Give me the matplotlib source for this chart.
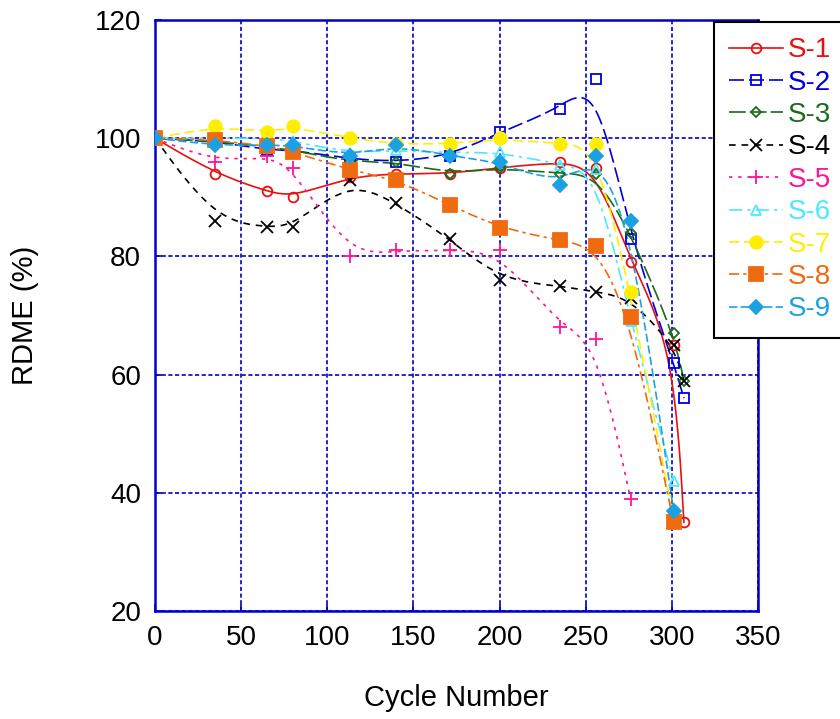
import numpy as np
import matplotlib

matplotlib.use("Agg")
import matplotlib.pyplot as plt

plt.rcParams["font.family"] = ["Liberation Sans", "DejaVu Sans"]

# cycle numbers and RDME readings (%) per sample
x_long = [0, 35, 65, 80, 113, 140, 171, 200, 235, 256, 276, 301, 307]
x_mid = [0, 35, 65, 80, 113, 140, 171, 200, 235, 256, 276, 301]
x_short = [0, 35, 65, 80, 113, 140, 171, 200, 235, 256, 276]

s1 = [100, 94, 91, 90, 93.5, 94, 94, 95, 96, 95, 79, 65, 35]
s2 = [100, 99.5, 98, 98, 96.5, 96, 97, 101, 105, 110, 83, 62, 56]
s3 = [100, 99.5, 98.5, 98, 96, 96, 94, 95, 94, 94, 84, 67, 59]
s4 = [100, 86, 85, 85, 93, 89, 83, 76, 75, 74, 73, 65, 59]
s5 = [100, 96, 97, 95, 80, 81, 81, 81, 68, 66, 39]
s6 = [100, 100, 100, 99.5, 97.5, 98, 97.5, 97.7, 95.5, 94.8, 69, 42]
s7 = [100, 102, 101, 102, 100, 99, 99, 100, 99, 99, 74, 35.5]
s8 = [100, 99.7, 98.7, 97.7, 94.6, 93, 88.7, 84.8, 82.7, 81.7, 69.7, 35]
s9 = [100, 98.8, 98.8, 98.8, 97, 98.8, 97, 96, 92, 97, 86, 37]

labels = ["S-1", "S-2", "S-3", "S-4", "S-5", "S-6", "S-7", "S-8", "S-9"]
xs = [x_long, x_long, x_long, x_long, x_short, x_mid, x_mid, x_mid, x_mid]
ys = [s1, s2, s3, s4, s5, s6, s7, s8, s9]

styles = [
    dict(color="#E8100E", marker="o", mfc="none", ms=7, dashes=()),
    dict(color="#0000DD", marker="s", mfc="none", ms=7, dashes=(9, 3)),
    dict(color="#1A6B1A", marker="D", mfc="none", ms=5.5, dashes=(10, 2.5)),
    dict(color="black", marker="x", mfc="none", ms=8, dashes=(4, 3.5)),
    dict(color="#FF1493", marker="+", mfc="none", ms=10, dashes=(2, 3.5)),
    dict(color="#4DE8FF", marker="^", mfc="none", ms=7, dashes=(8, 3, 2, 3)),
    dict(color="#FFEE00", marker="o", mfc="#FFEE00", ms=9, dashes=(6, 3)),
    dict(color="#F06A10", marker="s", mfc="#F06A10", ms=10, dashes=(6, 2.5, 2, 2.5)),
    dict(color="#1BA1E2", marker="D", mfc="#1BA1E2", ms=7, dashes=(5, 2)),
]


def bspline(x, y, n=24):
    # clamped uniform cubic B-spline through the control points
    p = np.column_stack([x, y]).astype(float)
    p = np.vstack([p[:1], p[:1], p, p[-1:], p[-1:]])
    m = np.array([[-1, 3, -3, 1], [3, -6, 3, 0], [-3, 0, 3, 0], [1, 4, 1, 0]]) / 6.0
    t = np.linspace(0, 1, n)
    tt = np.column_stack([t**3, t**2, t, np.ones_like(t)])
    segs = [tt @ m @ p[i:i + 4] for i in range(len(p) - 3)]
    out = np.vstack(segs)
    return out[:, 0], out[:, 1]


fig = plt.figure(figsize=(8.4, 7.19), dpi=100)
ax = fig.add_axes([155 / 840, 1 - 611 / 719, 603 / 840, 591 / 719])

blue = "#0000CC"
handles = []
for x, y, lab, st in zip(xs, ys, labels, styles):
    cx, cy = bspline(x, y)
    ax.plot(cx, cy, color=st["color"], lw=1.2, dashes=st["dashes"], zorder=2)
    ax.plot(x, y, ls="none", marker=st["marker"], ms=st["ms"], mfc=st["mfc"],
            mec=st["color"], mew=1.3, zorder=3)
    h, = ax.plot([], [], color=st["color"], lw=1.2, dashes=st["dashes"],
                 marker=st["marker"], ms=st["ms"], mfc=st["mfc"], mec=st["color"], mew=1.3)
    handles.append(h)

ax.set_xlim(0, 350)
ax.set_ylim(20, 120)
ax.set_xticks(np.arange(0, 351, 50))
ax.set_yticks(np.arange(20, 121, 20))
ax.grid(True, color=blue, ls=(0, (2.5, 1.5)), lw=1.2)
for sp in ax.spines.values():
    sp.set_color(blue)
    sp.set_linewidth(1.8)
ax.tick_params(direction="in", colors=blue, labelcolor="black", labelsize=20, length=5, width=1.2, pad=10)
ax.set_xlabel("Cycle Number", fontsize=21, labelpad=24)
ax.set_ylabel("RDME (%)", fontsize=21, labelpad=40)

leg = fig.legend(handles, labels, loc="upper left", bbox_to_anchor=(714 / 840, 1 - 22 / 719),
                 fontsize=20, frameon=True, fancybox=False, framealpha=1, edgecolor="black",
                 handlelength=1.95, labelspacing=0.23, borderpad=0.55, handletextpad=0.15,
                 borderaxespad=0)
leg.get_frame().set_linewidth(1.5)
for txt, st in zip(leg.get_texts(), styles):
    txt.set_color(st["color"])

fig.savefig("out.png", dpi=100)
